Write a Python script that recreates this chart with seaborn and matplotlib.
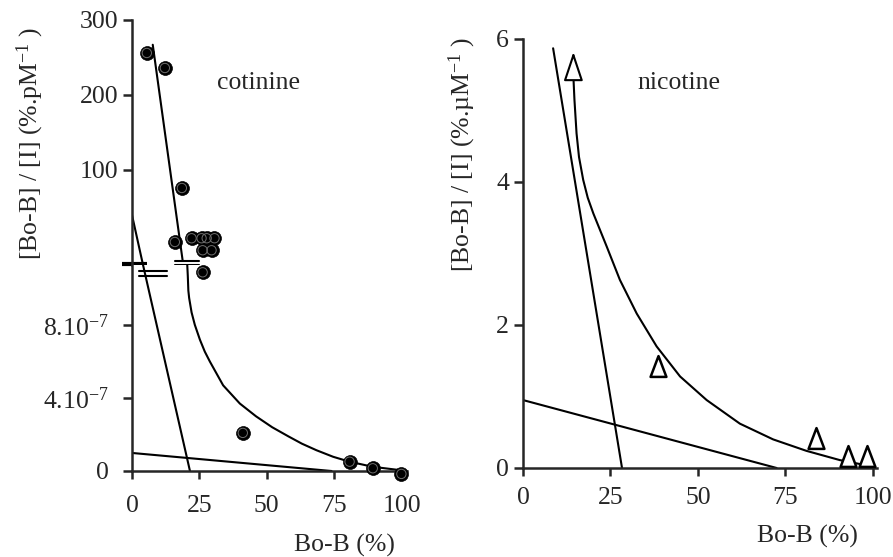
import matplotlib
matplotlib.use("Agg")
import matplotlib.pyplot as plt
from matplotlib.path import Path
import seaborn as sns

# ---------------- cotinine (left panel) ----------------
# upper part of the broken y axis, %.pM-1
cot_hi_x = [5.5, 12.2, 18.5, 15.9, 22.1, 25.8, 27.7, 30.6, 26.2, 29.5]
cot_hi_y = [256, 236, 76, 4, 9, 9, 9, 9, -7, -7]
# lower part of the broken y axis, in units of 1e-7
cot_lo_x = [26.2, 41.1, 80.7, 89.3, 99.9]
cot_lo_y = [10.9, 2.09, 0.51, 0.15, -0.16]

# fitted lines / curve
cot_steep_x = [7.7, 18.8]
cot_steep_y = [267, -21]
cot_curve_x = [20.5, 20.7, 20.9, 21.2, 22.1, 23.3, 25.2, 27.0, 28.9, 33.8,
               40.0, 46.0, 52.0, 58.0, 63.0, 68.4, 74.6, 80.7, 89.3, 99.3]
cot_curve_y = [11.3, 10.7, 9.9, 9.49, 8.7, 8.02, 7.2, 6.55, 6.0, 4.7,
               3.7, 3.0, 2.4, 1.9, 1.5, 1.14, 0.78, 0.51, 0.23, 0.05]
cot_mid_hi_x = [0, 4.1]
cot_mid_hi_y = [40, -26.7]
cot_mid_lo_x = [4.1, 21.5]
cot_mid_lo_y = [11.3, 0]
cot_flat_x = [0, 74]
cot_flat_y = [0.99, 0]

# break marks ("=") on the lines
brk_hi_x = [16.0, 25.0]
brk_hi_y = [-21, -27]
brk_lo_x = [2.5, 13.0]
brk_lo_y = [10.95, 10.68]

cot_hi_ticks = [100, 200, 300]
cot_lo_ticks = [0, 4, 8]
cot_lo_labels = ["0", r"4.10$^{-7}$", r"8.10$^{-7}$"]

# ---------------- nicotine (right panel) ----------------
nic_x = [38.7, 83.7, 92.9, 98.2]
nic_y = [1.43, 0.42, 0.17, 0.17]
nic_steep_x = [8.6, 28.3]
nic_steep_y = [5.87, 0]
nic_flat_x = [0, 72.5]
nic_flat_y = [0.95, 0]
nic_curve_x = [14.4, 14.7, 15.3, 16.0, 17.2, 18.5, 20.1, 23.9, 27.7, 32.5,
               38.2, 44.9, 52.5, 62.0, 71.5, 81.0, 90.6, 100]
nic_curve_y = [5.47, 5.15, 4.68, 4.35, 4.03, 3.78, 3.56, 3.10, 2.63, 2.16,
               1.70, 1.28, 0.95, 0.62, 0.40, 0.24, 0.11, 0.02]
nic_arrow_tip = 5.82

x_ticks = [0, 25, 50, 75, 100]
nic_ticks = [0, 2, 4, 6]

sns.set_style("ticks")
plt.rcParams["font.family"] = ["Liberation Serif", "DejaVu Serif"]
plt.rcParams["mathtext.fontset"] = "custom"
plt.rcParams["mathtext.rm"] = "Liberation Serif"
plt.rcParams["mathtext.default"] = "regular"
plt.rcParams["lines.solid_joinstyle"] = "round"

FS = 18.5
LW = 1.5
SPINE = 1.8

fig = plt.figure(figsize=(8.93, 5.57), dpi=100)
ax_hi = fig.add_axes([0.1478, 0.5242, 0.308, 0.4399])
ax_lo = fig.add_axes([0.1478, 0.1544, 0.308, 0.3698], sharex=ax_hi)
ax_r = fig.add_axes([0.5857, 0.1598, 0.3964, 0.7702])

line_kw = dict(color="black", lw=LW, sort=False, estimator=None, legend=False)


def dots(ax, x, y):
    sns.scatterplot(x=x, y=y, ax=ax, s=100, color="black", edgecolor="black",
                    linewidth=0.5, zorder=4, clip_on=False, legend=False)
    sns.scatterplot(x=x, y=y, ax=ax, s=45, facecolors="none", edgecolor="#6e6e6e",
                    linewidth=0.7, zorder=5, clip_on=False, legend=False)


# upper cotinine part
sns.lineplot(x=cot_steep_x, y=cot_steep_y, ax=ax_hi, **line_kw)
sns.lineplot(x=cot_mid_hi_x, y=cot_mid_hi_y, ax=ax_hi, **line_kw)
dots(ax_hi, cot_hi_x, cot_hi_y)
for yb in brk_hi_y:
    ax_hi.plot(brk_hi_x, [yb, yb], color="black", lw=LW, clip_on=False)
ax_hi.plot([-0.036, 0.055], [0.006, 0.006], transform=ax_hi.transAxes,
           color="black", lw=3, clip_on=False, solid_capstyle="butt")
ax_hi.set_ylim(-26.7, 300)
ax_hi.set_yticks(cot_hi_ticks)
ax_hi.text(31.5, 216, "cotinine", fontsize=FS, va="center", ha="left")

# lower cotinine part
sns.lineplot(x=cot_curve_x, y=cot_curve_y, ax=ax_lo, **line_kw)
sns.lineplot(x=cot_mid_lo_x, y=cot_mid_lo_y, ax=ax_lo, **line_kw)
sns.lineplot(x=cot_flat_x, y=cot_flat_y, ax=ax_lo, **line_kw)
dots(ax_lo, cot_lo_x, cot_lo_y)
for yb in brk_lo_y:
    ax_lo.plot(brk_lo_x, [yb, yb], color="black", lw=LW, clip_on=False)
ax_lo.set_ylim(0, 11.3)
ax_lo.set_yticks(cot_lo_ticks)
ax_lo.set_yticklabels(cot_lo_labels)
ax_lo.set_xlim(0, 102)
ax_lo.set_xticks(x_ticks)

for ax in (ax_hi, ax_lo):
    ax.spines["top"].set_visible(False)
    ax.spines["right"].set_visible(False)
ax_hi.spines["bottom"].set_visible(False)
ax_hi.tick_params(axis="x", bottom=False, labelbottom=False)

# nicotine
sns.lineplot(x=nic_steep_x, y=nic_steep_y, ax=ax_r, **line_kw)
sns.lineplot(x=nic_flat_x, y=nic_flat_y, ax=ax_r, **line_kw)
sns.lineplot(x=nic_curve_x, y=nic_curve_y, ax=ax_r, **line_kw)
ax_r.annotate("", xy=(nic_curve_x[0], nic_arrow_tip),
              xytext=(nic_curve_x[0], nic_curve_y[0]),
              arrowprops=dict(arrowstyle="-|>,head_length=0.9,head_width=0.3",
                              mutation_scale=20, fc="white", ec="black", lw=LW,
                              shrinkA=0, shrinkB=0))
tri = Path([(0, 1), (-0.76, -1), (0.76, -1), (0, 1)], closed=True)
sns.scatterplot(x=nic_x, y=nic_y, ax=ax_r, marker=tri, s=225, color="white",
                edgecolor="black", linewidth=1.8, zorder=4, clip_on=False,
                legend=False)
ax_r.text(32.6, 5.38, "nicotine", fontsize=FS, va="center", ha="left")
ax_r.set_xlim(0, 101.2)
ax_r.set_ylim(0, 6)
ax_r.set_xticks(x_ticks)
ax_r.set_yticks(nic_ticks)
ax_r.spines["top"].set_visible(False)
ax_r.spines["right"].set_visible(False)

for ax in (ax_hi, ax_lo, ax_r):
    for s in ax.spines.values():
        s.set_linewidth(SPINE)
    ax.tick_params(axis="y", length=6.5, width=SPINE, labelsize=FS, pad=3.5)
    ax.tick_params(axis="x", length=5.5, width=SPINE, labelsize=FS)
    ax.set_xlabel("")
    ax.set_ylabel("")
ax_lo.tick_params(axis="y", pad=10)
ax_lo.tick_params(axis="x", pad=12)
ax_r.tick_params(axis="x", pad=8.5)

fig.text(0.034, 0.743, r"[Bo-B] / [I] (%.pM$^{-1}$ )", rotation=90,
         ha="center", va="center", fontsize=FS)
fig.text(0.518, 0.722, r"[Bo-B] / [I] (%.µM$^{-1}$ )", rotation=90,
         ha="center", va="center", fontsize=FS)
fig.text(0.386, 0.0215, "Bo-B (%)", ha="center", va="center", fontsize=FS)
fig.text(0.904, 0.036, "Bo-B (%)", ha="center", va="center", fontsize=FS)

fig.savefig("out.png", dpi=100)
